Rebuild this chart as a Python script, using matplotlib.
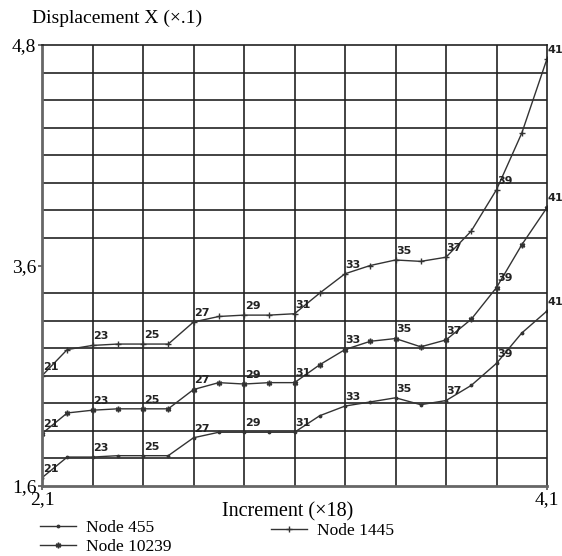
import matplotlib.pyplot as plt
import numpy as np

plt.rcParams['font.family'] = ['Liberation Serif', 'DejaVu Serif']

# increments 21..41
inc = list(range(21, 42))

node_455 = [1.66, 1.81, 1.81, 1.82, 1.82, 1.82, 1.95, 1.99, 1.99, 1.99, 1.99,
            2.11, 2.18, 2.21, 2.24, 2.19, 2.22, 2.33, 2.49, 2.71, 2.87]
node_10239 = [1.98, 2.13, 2.15, 2.16, 2.16, 2.16, 2.30, 2.35, 2.34, 2.35, 2.35,
              2.48, 2.59, 2.65, 2.67, 2.61, 2.66, 2.81, 3.04, 3.35, 3.62]
node_1445 = [2.40, 2.59, 2.62, 2.63, 2.63, 2.63, 2.79, 2.83, 2.84, 2.84, 2.85,
             3.00, 3.14, 3.20, 3.24, 3.23, 3.26, 3.45, 3.75, 4.16, 4.70]

x_ticks = [21, 41]
x_ticklabels = ["2,1", "4,1"]
y_ticks = [1.6, 3.2, 4.8]
y_ticklabels = ["1,6", "3,6", "4,8"]

fig = plt.figure(figsize=(5.62, 5.56), dpi=100)
ax = fig.add_axes([42/562, 1-486/556, 505/562, 441/556])

col = '#333333'
l1, = ax.plot(inc, node_455, color=col, lw=1, marker='.', ms=3.5)
l2, = ax.plot(inc, node_10239, color=col, lw=1, marker=(6, 2, 0), ms=4, mew=1.1)
l3, = ax.plot(inc, node_1445, color=col, lw=1, marker='+', ms=5, mew=1)

# numbers of the odd increments
for series in (node_455, node_10239, node_1445):
    for i, v in zip(inc, series):
        if i % 2 == 1:
            ax.annotate(str(i), (i, v), xytext=(0.5, 3), textcoords='offset points',
                        ha='left', va='bottom', fontsize=8, fontweight='bold',
                        family='DejaVu Sans', color='#222222', annotation_clip=False)

ax.set_xlim(21, 41)
ax.set_ylim(1.6, 4.8)
ax.set_xticks(x_ticks)
ax.set_xticklabels(x_ticklabels, fontsize=14)
ax.set_yticks(y_ticks)
ax.set_yticklabels(y_ticklabels, fontsize=14)
ax.set_xticks(np.arange(21, 42, 2), minor=True)
ax.set_yticks(np.arange(1.6, 4.81, 0.2), minor=True)
ax.grid(which='minor', color='#222222', lw=1.2)
ax.tick_params(which='minor', length=0)
ax.tick_params(which='major', length=3, width=1.2, pad=1, color='#555555')
for s in ax.spines.values():
    s.set_color('#222222')
    s.set_linewidth(1.2)
ax.spines['left'].set_color('#666666')
ax.spines['left'].set_linewidth(2)
ax.spines['bottom'].set_color('#666666')
ax.spines['bottom'].set_linewidth(2)

fig.text(32/562, 1-18/556, "Displacement X (×.1)", fontsize=14, ha='left', va='center')
fig.text(288/562, 1-512/556, "Increment (×18)", fontsize=14.5, ha='center', va='center')

kw = dict(frameon=False, fontsize=12.5, handlelength=2.1, handletextpad=0.55,
          borderpad=0, borderaxespad=0)
fig.legend([l1], ["Node 455"], loc='center left', bbox_to_anchor=(40/562, 1-528/556), **kw)
fig.legend([l2], ["Node 10239"], loc='center left', bbox_to_anchor=(40/562, 1-547/556), **kw)
fig.legend([l3], ["Node 1445"], loc='center left', bbox_to_anchor=(271/562, 1-531/556), **kw)

fig.savefig("out.png", dpi=100)
